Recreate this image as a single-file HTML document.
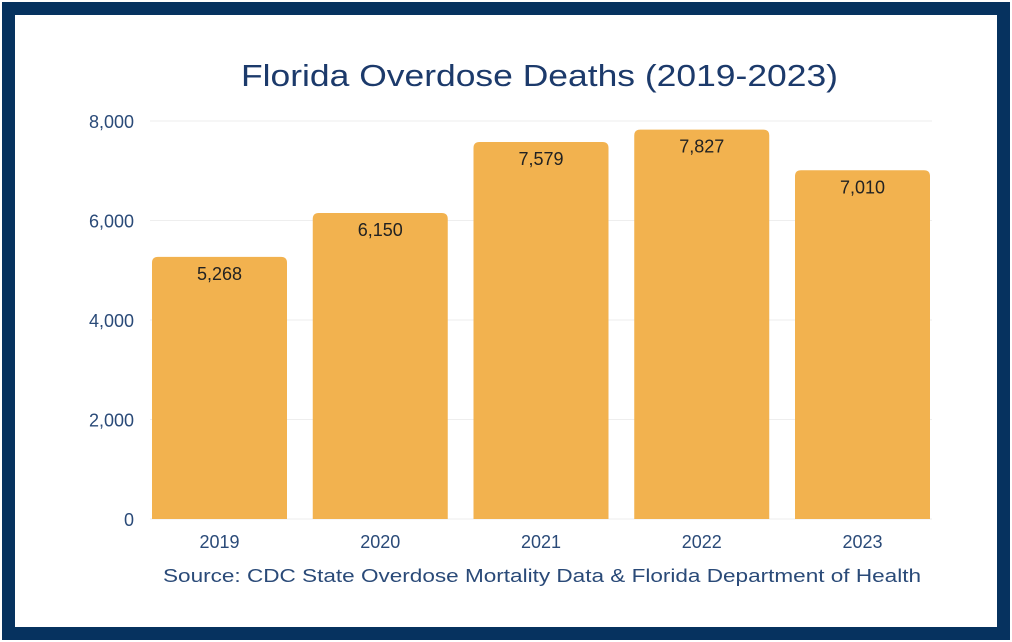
<!DOCTYPE html>
<html><head><meta charset="utf-8"><style>
body{margin:0;width:1012px;height:642px;background:#fff;overflow:hidden;font-family:"Liberation Sans",sans-serif}
#frame{position:absolute;left:2px;top:2px;width:1008px;height:638px;box-sizing:border-box;border:13px solid #06325f}
</style></head><body>
<div id="frame"></div>
<svg id="chart" width="1012" height="642" style="position:absolute;left:0;top:0">
<text x="241" y="86" textLength="597" lengthAdjust="spacingAndGlyphs" font-size="31" fill="#1c3a6b">Florida Overdose Deaths (2019-2023)</text>
<g id="grid"></g><g id="bars"></g>
<text x="163" y="582" textLength="758" lengthAdjust="spacingAndGlyphs" font-size="18" fill="#2a4a78">Source: CDC State Overdose Mortality Data &amp; Florida Department of Health</text>
</svg>
<script>
const categories=["2019","2020","2021","2022","2023"];
const values=[5268,6150,7579,7827,7010];
const valueLabels=["5,268","6,150","7,579","7,827","7,010"];
const yTicks=[0,2000,4000,6000,8000];
const yTickLabels=["0","2,000","4,000","6,000","8,000"];
const NS="http://www.w3.org/2000/svg";
const y0=519,yTop=121,yMax=8000,x0=152,pitch=160.75,bw=135;
const y=v=>y0-(v/yMax)*(y0-yTop);
const x=i=>x0+i*pitch;
const grid=document.getElementById('grid'),bars=document.getElementById('bars');
function mk(t,a,p){const e=document.createElementNS(NS,t);for(const k in a)e.setAttribute(k,a[k]);p.appendChild(e);return e;}
yTicks.forEach((t,i)=>{
 const l=mk('line',{x1:150,x2:932,y1:y(t),y2:y(t),stroke:'#eeeeee','stroke-width':1},grid);
 
 
 const tx=mk('text',{x:134,y:y(t)+7,'text-anchor':'end','font-size':18,fill:'#2a4a78'},grid);
 tx.textContent=yTickLabels[i];
 
 
});
categories.forEach((c,i)=>{
 const top=y(values[i]),r=6,L=x(i),R=L+bw;
 const p=mk('path',{d:`M${L},${y0}V${top+r}Q${L},${top} ${L+r},${top}H${R-r}Q${R},${top} ${R},${top+r}V${y0}Z`,fill:'#f2b24f'},bars);
 
 
 const v=mk('text',{x:L+bw/2,y:top+23,'text-anchor':'middle','font-size':18,fill:'#222'},bars);
 v.textContent=valueLabels[i];
 
 
 const xl=mk('text',{x:L+bw/2,y:548,'text-anchor':'middle','font-size':18,fill:'#2a4a78'},bars);
 xl.textContent=c;
 
 
});
</script>
</body></html>
